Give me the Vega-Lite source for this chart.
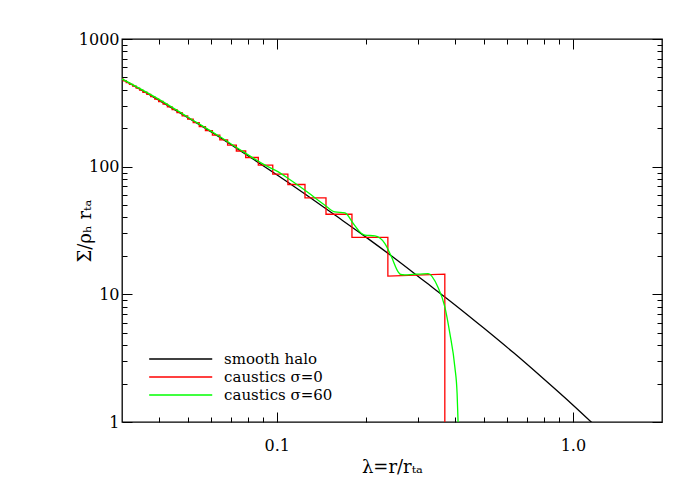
{
  "$schema": "https://vega.github.io/schema/vega-lite/v6.json",
  "width": 540,
  "height": 383,
  "autosize": "none",
  "padding": {"left": 122, "top": 39, "right": 38, "bottom": 78},
  "background": "white",
  "datasets": {
    "halo": [
      {"lam": 0.03, "sigma": 485},
      {"lam": 0.0398, "sigma": 333},
      {"lam": 0.0501, "sigma": 242},
      {"lam": 0.0631, "sigma": 174},
      {"lam": 0.0794, "sigma": 123},
      {"lam": 0.1, "sigma": 86.5},
      {"lam": 0.1259, "sigma": 60.0},
      {"lam": 0.1585, "sigma": 41.2},
      {"lam": 0.1995, "sigma": 28.2},
      {"lam": 0.2512, "sigma": 19.0},
      {"lam": 0.3162, "sigma": 12.6},
      {"lam": 0.3981, "sigma": 8.34},
      {"lam": 0.5012, "sigma": 5.42},
      {"lam": 0.631, "sigma": 3.48},
      {"lam": 0.7943, "sigma": 2.19},
      {"lam": 1.0, "sigma": 1.36},
      {"lam": 1.175, "sigma": 0.96}
    ],
    "caustic0": [
      {"i": 0, "lam": 0.03, "sigma": 485.5},
      {"i": 1, "lam": 0.0303, "sigma": 485.5},
      {"i": 2, "lam": 0.0303, "sigma": 470.8},
      {"i": 3, "lam": 0.031, "sigma": 470.8},
      {"i": 4, "lam": 0.031, "sigma": 456.1},
      {"i": 5, "lam": 0.0318, "sigma": 456.1},
      {"i": 6, "lam": 0.0318, "sigma": 441.4},
      {"i": 7, "lam": 0.0326, "sigma": 441.4},
      {"i": 8, "lam": 0.0326, "sigma": 426.7},
      {"i": 9, "lam": 0.0335, "sigma": 426.7},
      {"i": 10, "lam": 0.0335, "sigma": 412},
      {"i": 11, "lam": 0.0344, "sigma": 412},
      {"i": 12, "lam": 0.0344, "sigma": 397.3},
      {"i": 13, "lam": 0.0353, "sigma": 397.3},
      {"i": 14, "lam": 0.0353, "sigma": 382.6},
      {"i": 15, "lam": 0.0364, "sigma": 382.6},
      {"i": 16, "lam": 0.0364, "sigma": 367.9},
      {"i": 17, "lam": 0.0375, "sigma": 367.9},
      {"i": 18, "lam": 0.0375, "sigma": 353.2},
      {"i": 19, "lam": 0.0387, "sigma": 353.2},
      {"i": 20, "lam": 0.0387, "sigma": 338.5},
      {"i": 21, "lam": 0.0399, "sigma": 338.5},
      {"i": 22, "lam": 0.0399, "sigma": 323.8},
      {"i": 23, "lam": 0.0413, "sigma": 323.8},
      {"i": 24, "lam": 0.0413, "sigma": 309.1},
      {"i": 25, "lam": 0.0427, "sigma": 309.1},
      {"i": 26, "lam": 0.0427, "sigma": 294.4},
      {"i": 27, "lam": 0.0443, "sigma": 294.4},
      {"i": 28, "lam": 0.0443, "sigma": 279.7},
      {"i": 29, "lam": 0.046, "sigma": 279.7},
      {"i": 30, "lam": 0.046, "sigma": 265},
      {"i": 31, "lam": 0.0479, "sigma": 265},
      {"i": 32, "lam": 0.0479, "sigma": 250.3},
      {"i": 33, "lam": 0.05, "sigma": 250.3},
      {"i": 34, "lam": 0.05, "sigma": 235.6},
      {"i": 35, "lam": 0.0522, "sigma": 235.6},
      {"i": 36, "lam": 0.0522, "sigma": 220.9},
      {"i": 37, "lam": 0.0547, "sigma": 220.9},
      {"i": 38, "lam": 0.0547, "sigma": 206.2},
      {"i": 39, "lam": 0.0574, "sigma": 206.2},
      {"i": 40, "lam": 0.0574, "sigma": 191.5},
      {"i": 41, "lam": 0.0606, "sigma": 191.5},
      {"i": 42, "lam": 0.0606, "sigma": 176.8},
      {"i": 43, "lam": 0.0642, "sigma": 176.8},
      {"i": 44, "lam": 0.0642, "sigma": 162.1},
      {"i": 45, "lam": 0.0682, "sigma": 162.1},
      {"i": 46, "lam": 0.0682, "sigma": 147.4},
      {"i": 47, "lam": 0.073, "sigma": 147.4},
      {"i": 48, "lam": 0.073, "sigma": 132.7},
      {"i": 49, "lam": 0.0785, "sigma": 132.7},
      {"i": 50, "lam": 0.0785, "sigma": 118},
      {"i": 51, "lam": 0.0866, "sigma": 118},
      {"i": 52, "lam": 0.0866, "sigma": 102.8},
      {"i": 53, "lam": 0.0969, "sigma": 102.8},
      {"i": 54, "lam": 0.0969, "sigma": 87.4},
      {"i": 55, "lam": 0.109, "sigma": 87.4},
      {"i": 56, "lam": 0.109, "sigma": 72.5},
      {"i": 57, "lam": 0.1245, "sigma": 72.5},
      {"i": 58, "lam": 0.1245, "sigma": 56.9},
      {"i": 59, "lam": 0.1466, "sigma": 56.9},
      {"i": 60, "lam": 0.1466, "sigma": 42.4},
      {"i": 61, "lam": 0.1794, "sigma": 42.4},
      {"i": 62, "lam": 0.1794, "sigma": 27.9},
      {"i": 63, "lam": 0.2372, "sigma": 27.9},
      {"i": 64, "lam": 0.2372, "sigma": 13.9},
      {"i": 65, "lam": 0.3694, "sigma": 14.4},
      {"i": 66, "lam": 0.3694, "sigma": 0.5}
    ],
    "caustic60": [
      {"lam": 0.03, "sigma": 487},
      {"lam": 0.0404, "sigma": 332},
      {"lam": 0.05, "sigma": 245},
      {"lam": 0.0631, "sigma": 176},
      {"lam": 0.0781, "sigma": 128.3},
      {"lam": 0.0912, "sigma": 102.8},
      {"lam": 0.1012, "sigma": 91.0},
      {"lam": 0.1093, "sigma": 80.8},
      {"lam": 0.1245, "sigma": 65.4},
      {"lam": 0.1454, "sigma": 49.9},
      {"lam": 0.1572, "sigma": 44.2},
      {"lam": 0.1699, "sigma": 43.4},
      {"lam": 0.1812, "sigma": 35.9},
      {"lam": 0.1933, "sigma": 30.0},
      {"lam": 0.1984, "sigma": 29.1},
      {"lam": 0.2144, "sigma": 28.7},
      {"lam": 0.2318, "sigma": 25.0},
      {"lam": 0.2441, "sigma": 19.6},
      {"lam": 0.257, "sigma": 15.0},
      {"lam": 0.262, "sigma": 14.3},
      {"lam": 0.2707, "sigma": 14.2},
      {"lam": 0.3245, "sigma": 14.55},
      {"lam": 0.3499, "sigma": 11.43},
      {"lam": 0.3694, "sigma": 7.97},
      {"lam": 0.384, "sigma": 4.96},
      {"lam": 0.3993, "sigma": 2.7},
      {"lam": 0.4064, "sigma": 1.67},
      {"lam": 0.4095, "sigma": 1.0},
      {"lam": 0.411, "sigma": 0.8}
    ]
  },
  "layer": [
    {
      "data": {"name": "halo"},
      "mark": {"type": "line", "strokeWidth": 1.3, "interpolate": "monotone", "clip": true},
      "encoding": {
        "x": {"field": "lam", "type": "quantitative",
              "scale": {"type": "log", "domain": [0.03, 2], "nice": false},
              "axis": {"orient": "bottom", "values": [0.1, 1], "format": ".1f", "tickSize": -10, "labelPadding": 25,
                       "title": "λ=r/rₜₐ", "titleX": 270, "titleY": 45, "titleBaseline": "middle"}},
        "y": {"field": "sigma", "type": "quantitative",
              "scale": {"type": "log", "domain": [1, 1000], "nice": false},
              "axis": {"orient": "left", "values": [1, 10, 100, 1000], "format": "d", "tickSize": -10, "labelPadding": 13,
                       "title": "Σ/ρₕ rₜₐ", "titleX": -37, "titleY": 191.5, "titleAngle": 270, "titleBaseline": "middle", "titleAlign": "center"}},
        "color": {"datum": "smooth halo", "type": "nominal",
                  "scale": {"domain": ["smooth halo", "caustics σ=0", "caustics σ=60"], "range": ["#000000", "#ff0000", "#00ff00"]},
                  "legend": {"orient": "none", "legendX": 51.2, "legendY": 312.5, "title": null, "symbolType": "M-5,0H5",
                             "symbolSize": 159, "symbolStrokeWidth": 1.3, "labelFont": "DejaVu Serif", "labelFontSize": 15,
                             "labelOffset": 35.9, "padding": 0, "rowPadding": 2, "labelColor": "black"}}
      }
    },
    {
      "data": {"name": "caustic0"},
      "mark": {"type": "line", "strokeWidth": 1.3, "clip": true},
      "encoding": {
        "x": {"field": "lam", "type": "quantitative",
              "scale": {"type": "log", "domain": [0.03, 2], "nice": false},
              "axis": {"orient": "bottom", "values": [0.04, 0.05, 0.06, 0.07, 0.08, 0.09, 0.2, 0.3, 0.4, 0.5, 0.6, 0.7, 0.8, 0.9], "tickSize": -5, "labels": false, "title": null}},
        "y": {"field": "sigma", "type": "quantitative",
              "scale": {"type": "log", "domain": [1, 1000], "nice": false},
              "axis": {"orient": "left", "values": [2, 3, 4, 5, 6, 7, 8, 9, 20, 30, 40, 50, 60, 70, 80, 90, 200, 300, 400, 500, 600, 700, 800, 900], "tickSize": -5, "labels": false, "title": null}},
        "order": {"field": "i", "type": "quantitative"},
        "color": {"datum": "caustics σ=0", "type": "nominal"}
      }
    },
    {
      "data": {"name": "caustic60"},
      "mark": {"type": "line", "strokeWidth": 1.3, "interpolate": "monotone", "clip": true},
      "encoding": {
        "x": {"field": "lam", "type": "quantitative",
              "scale": {"type": "log", "domain": [0.03, 2], "nice": false},
              "axis": {"orient": "top", "values": [0.1, 1], "tickSize": -10, "labels": false, "title": null}},
        "y": {"field": "sigma", "type": "quantitative",
              "scale": {"type": "log", "domain": [1, 1000], "nice": false},
              "axis": {"orient": "right", "values": [1, 10, 100, 1000], "tickSize": -10, "labels": false, "title": null}},
        "color": {"datum": "caustics σ=60", "type": "nominal"}
      }
    },
    {
      "data": {"name": "halo"},
      "mark": {"type": "line", "opacity": 0, "clip": true},
      "encoding": {
        "x": {"field": "lam", "type": "quantitative",
              "scale": {"type": "log", "domain": [0.03, 2], "nice": false},
              "axis": {"orient": "top", "values": [0.04, 0.05, 0.06, 0.07, 0.08, 0.09, 0.2, 0.3, 0.4, 0.5, 0.6, 0.7, 0.8, 0.9], "tickSize": -5, "labels": false, "title": null}},
        "y": {"field": "sigma", "type": "quantitative",
              "scale": {"type": "log", "domain": [1, 1000], "nice": false},
              "axis": {"orient": "right", "values": [2, 3, 4, 5, 6, 7, 8, 9, 20, 30, 40, 50, 60, 70, 80, 90, 200, 300, 400, 500, 600, 700, 800, 900], "tickSize": -5, "labels": false, "title": null}}
      }
    }
  ],
  "resolve": {"axis": {"x": "independent", "y": "independent"}},
  "config": {
    "view": {"stroke": "black", "strokeWidth": 1.3},
    "axis": {"domain": false, "grid": false, "tickColor": "black", "tickWidth": 1, "labelColor": "black",
             "labelFont": "DejaVu Serif", "labelFontSize": 16, "titleFont": "DejaVu Serif", "titleFontSize": 18,
             "titleFontWeight": "normal", "titleColor": "black", "labelFlush": false, "labelOverlap": false}
  }
}
